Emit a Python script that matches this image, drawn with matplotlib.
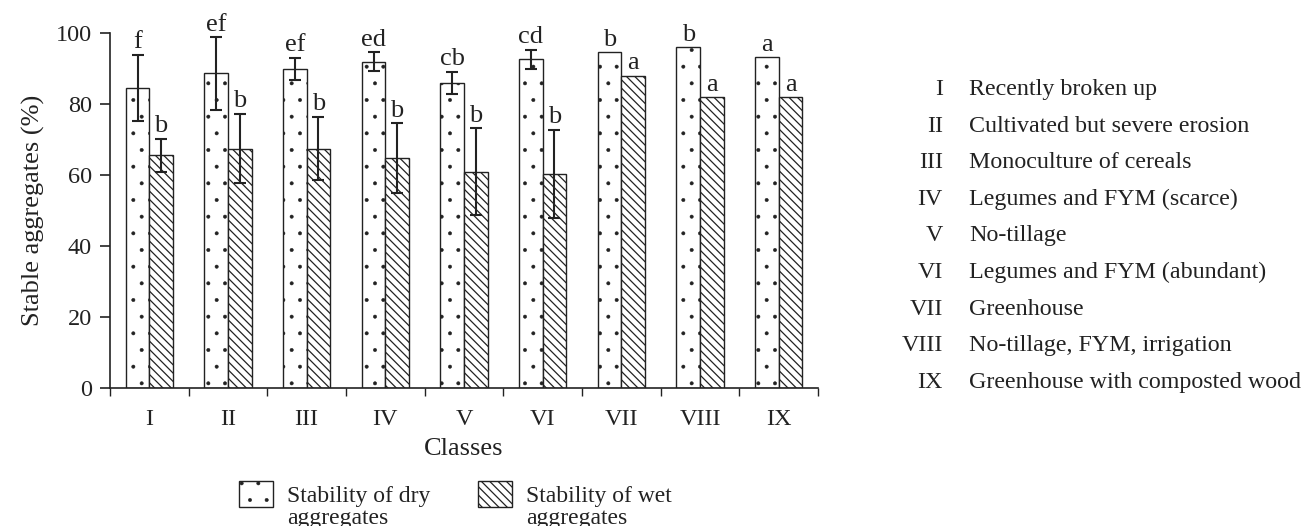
"""Aggregate stability per soil management class, dry vs. wet sieving."""

import numpy as np
import matplotlib.pyplot as plt
from matplotlib.patches import Patch

plt.rcParams['font.family'] = ['Liberation Serif', 'DejaVu Serif']
plt.rcParams['hatch.linewidth'] = 0.9

classes = ['I', 'II', 'III', 'IV', 'V', 'VI', 'VII', 'VIII', 'IX']
descriptions = [
    'Recently broken up',
    'Cultivated but severe erosion',
    'Monoculture of cereals',
    'Legumes and FYM (scarce)',
    'No-tillage',
    'Legumes and FYM (abundant)',
    'Greenhouse',
    'No-tillage, FYM, irrigation',
    'Greenhouse with composted wood',
]

dry_mean = [84.7, 88.7, 89.9, 92.0, 86.1, 92.7, 94.6, 96.0, 93.2]
dry_err = [9.3, 10.2, 3.2, 2.6, 3.1, 2.7, 0, 0, 0]
dry_letters = ['f', 'ef', 'ef', 'ed', 'cb', 'cd', 'b', 'b', 'a']

wet_mean = [65.6, 67.5, 67.5, 64.9, 61.0, 60.3, 88.0, 82.0, 82.0]
wet_err = [4.7, 9.8, 9.0, 9.8, 12.2, 12.5, 0, 0, 0]
wet_letters = ['b', 'b', 'b', 'b', 'b', 'b', 'a', 'a', 'a']

ink = '#222222'
dot_hatch = '.'
line_hatch = '\\\\\\\\'


def thin_dots(patches):
    # smaller, lighter stipple than the diagonal hatching
    for p in patches:
        if hasattr(p, 'set_hatch_linewidth'):
            p.set_hatch_linewidth(0.35)


fig = plt.figure(figsize=(13.03, 5.26), dpi=100)
ax = fig.add_axes([0.0844, 0.2624, 0.5434, 0.6743])

x = np.arange(len(classes))
w = 0.30

dry = ax.bar(x - w / 2, dry_mean, w, color='white', edgecolor=ink,
             linewidth=1.0, hatch=dot_hatch)
thin_dots(dry)
ax.bar(x + w / 2, wet_mean, w, color='white', edgecolor=ink,
       linewidth=1.0, hatch=line_hatch)

# error bars only where a spread was measured
for xs, m, e in [(x - w / 2, dry_mean, dry_err), (x + w / 2, wet_mean, wet_err)]:
    m = np.array(m)
    e = np.array(e)
    has = e > 0
    ax.errorbar(xs[has], m[has], yerr=e[has], fmt='none', ecolor=ink,
                elinewidth=1.5, capsize=4.5, capthick=1.5)

# significance letters
for xs, m, e, labs in [(x - w / 2, dry_mean, dry_err, dry_letters),
                       (x + w / 2, wet_mean, wet_err, wet_letters)]:
    for xi, mi, ei, lab in zip(xs, m, e, labs):
        ax.text(xi, mi + ei + 1.8, lab, ha='center', va='baseline',
                fontsize=19, color=ink, clip_on=False)

ax.set_xlim(-0.5, len(classes) - 0.5)
ax.set_ylim(0, 100)
ax.set_yticks(range(0, 101, 20))
ax.set_xticks(np.arange(-0.5, len(classes), 1.0))
ax.set_xticklabels([])
ax.set_xticks(x, minor=True)
ax.set_xticklabels(classes, minor=True)
ax.tick_params(axis='x', which='major', direction='out', length=6,
               width=1.0, color=ink)
ax.tick_params(axis='x', which='minor', length=0, pad=15, labelsize=17.5,
               labelcolor=ink)
ax.tick_params(axis='y', direction='out', length=7, width=1.2, color=ink,
               labelsize=17.5, labelcolor=ink, pad=6)

for side in ['top', 'right']:
    ax.spines[side].set_visible(False)
for side in ['left', 'bottom']:
    ax.spines[side].set_linewidth(1.2)
    ax.spines[side].set_color(ink)

ax.set_ylabel('Stable aggregates (%)', fontsize=19, color=ink, labelpad=8)
ax.set_xlabel('Classes', fontsize=19, color=ink, labelpad=6)

handles = [Patch(facecolor='white', edgecolor=ink, hatch=dot_hatch, linewidth=1.0),
           Patch(facecolor='white', edgecolor=ink, hatch=line_hatch, linewidth=1.0)]
leg = fig.legend(handles, ['Stability of dry', 'Stability of wet'],
                 loc='upper left', bbox_to_anchor=(0.1834, 0.086), ncol=2,
                 frameon=False, fontsize=17, handlelength=1.44, handleheight=1.35,
                 columnspacing=2.0, handletextpad=0.6, labelcolor=ink,
                 borderpad=0, borderaxespad=0)
thin_dots(leg.legend_handles[:1])

# second line of each legend label, running off the lower edge
fig.canvas.draw()
inv = fig.transFigure.inverted()
for t in leg.get_texts():
    x0 = inv.transform(t.get_window_extent().p0)[0]
    fig.text(x0, 0.004, 'aggregates', ha='left', va='baseline',
             fontsize=17, color=ink)

# key to the class numerals
row_y = np.linspace(0.8194, 0.2624, len(classes))
for num, desc, yy in zip(classes, descriptions, row_y):
    fig.text(0.7237, yy, num, ha='right', va='baseline', fontsize=17.3, color=ink)
    fig.text(0.7437, yy, desc, ha='left', va='baseline', fontsize=17.3, color=ink)

fig.savefig('out.png', dpi=100)
